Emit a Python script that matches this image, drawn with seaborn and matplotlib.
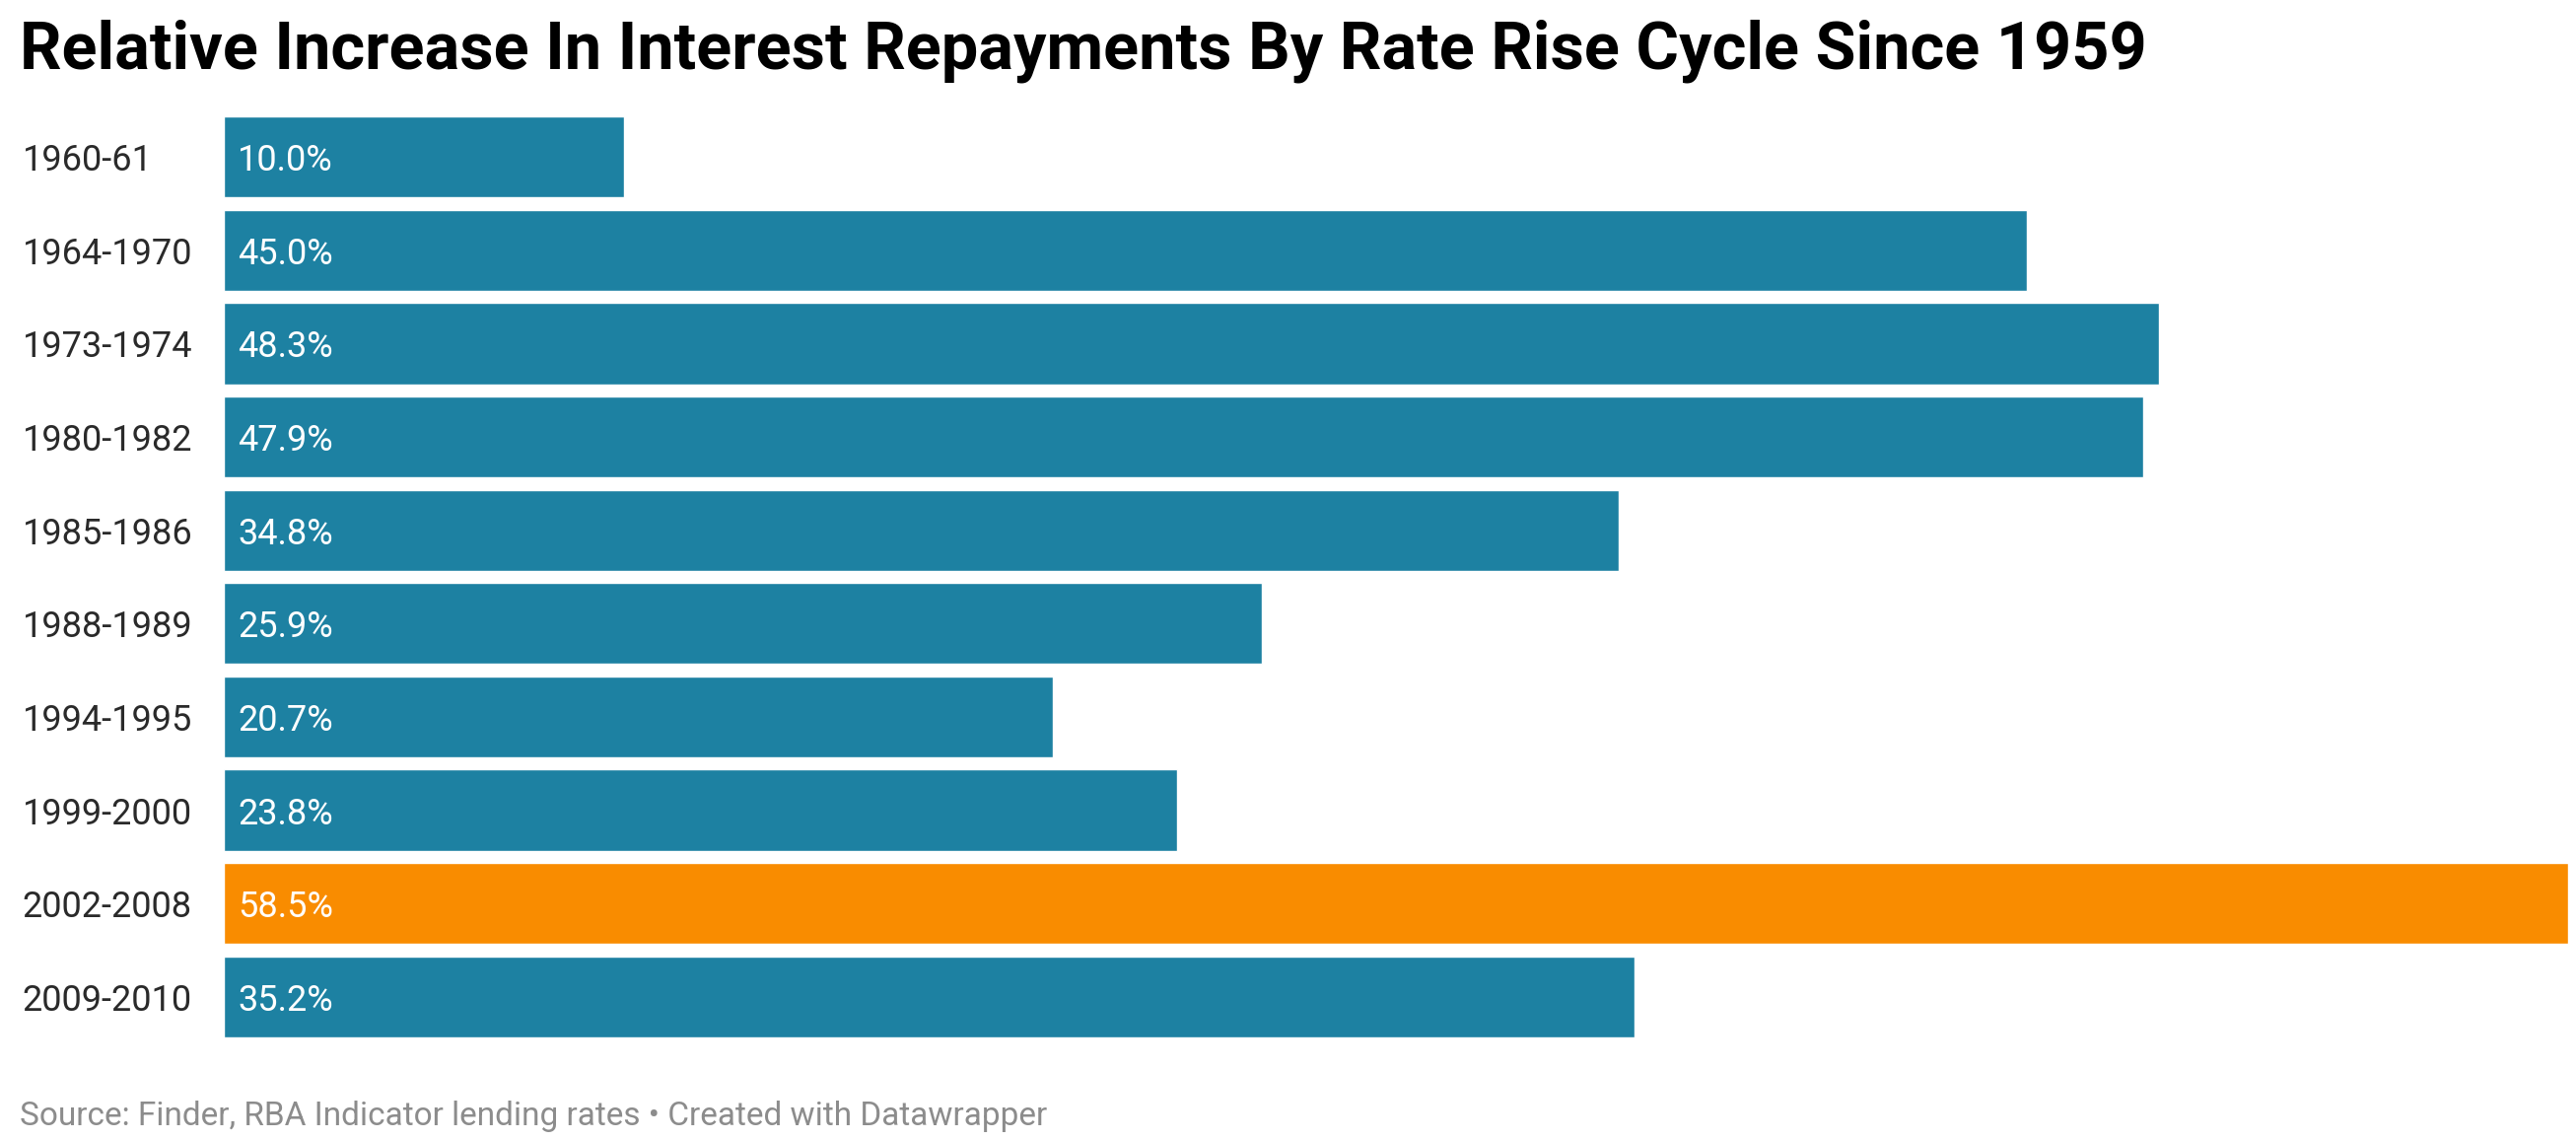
import matplotlib
matplotlib.use("Agg")
import matplotlib.pyplot as plt
import seaborn as sns
import pandas as pd

# data
cycles = ["1960-61", "1964-1970", "1973-1974", "1980-1982", "1985-1986",
          "1988-1989", "1994-1995", "1999-2000", "2002-2008", "2009-2010"]
increase = [10.0, 45.0, 48.3, 47.9, 34.8, 25.9, 20.7, 23.8, 58.5, 35.2]
highlight = "2002-2008"

blue = "#1d81a2"
orange = "#f98c00"

df = pd.DataFrame({"cycle": cycles, "increase": increase})
colors = {c: (orange if c == highlight else blue) for c in cycles}

sns.set_style("white")
plt.rcParams["font.family"] = ["Roboto", "DejaVu Sans"]

fig = plt.figure(figsize=(26.13, 11.56), dpi=100)
ax = fig.add_axes([0.08687, 0.08997, 0.91007, 0.80796])

sns.barplot(data=df, y="cycle", x="increase", hue="cycle", palette=colors,
            orient="h", width=0.87, legend=False, ax=ax, saturation=1)

ax.set_xlim(0, max(increase))
ax.set_ylim(len(cycles) - 1 + 0.435, -0.435)
ax.set_xticks([])
ax.set_yticks([])
ax.set_xlabel("")
ax.set_ylabel("")
for s in ax.spines.values():
    s.set_visible(False)

# category labels on the left, value labels inside the bars
for i, (c, v) in enumerate(zip(cycles, increase)):
    ax.text(-0.086, i, c, transform=ax.get_yaxis_transform(), ha="left",
            va="center_baseline", fontsize=26, color="#2a2a2a")
    ax.text(0.35, i, f"{v:.1f}%", ha="left", va="center_baseline",
            fontsize=26, color="white")

fig.text(0.0077, 0.955, "Relative Increase In Interest Repayments By Rate Rise Cycle Since 1959",
         ha="left", va="center", fontsize=48, fontweight="bold", color="#000000")
fig.text(0.0077, 0.021, "Source: Finder, RBA Indicator lending rates \u2022 Created with Datawrapper",
         ha="left", va="center", fontsize=24, color="#8c8c8c")

fig.savefig("out.png", dpi=100)
